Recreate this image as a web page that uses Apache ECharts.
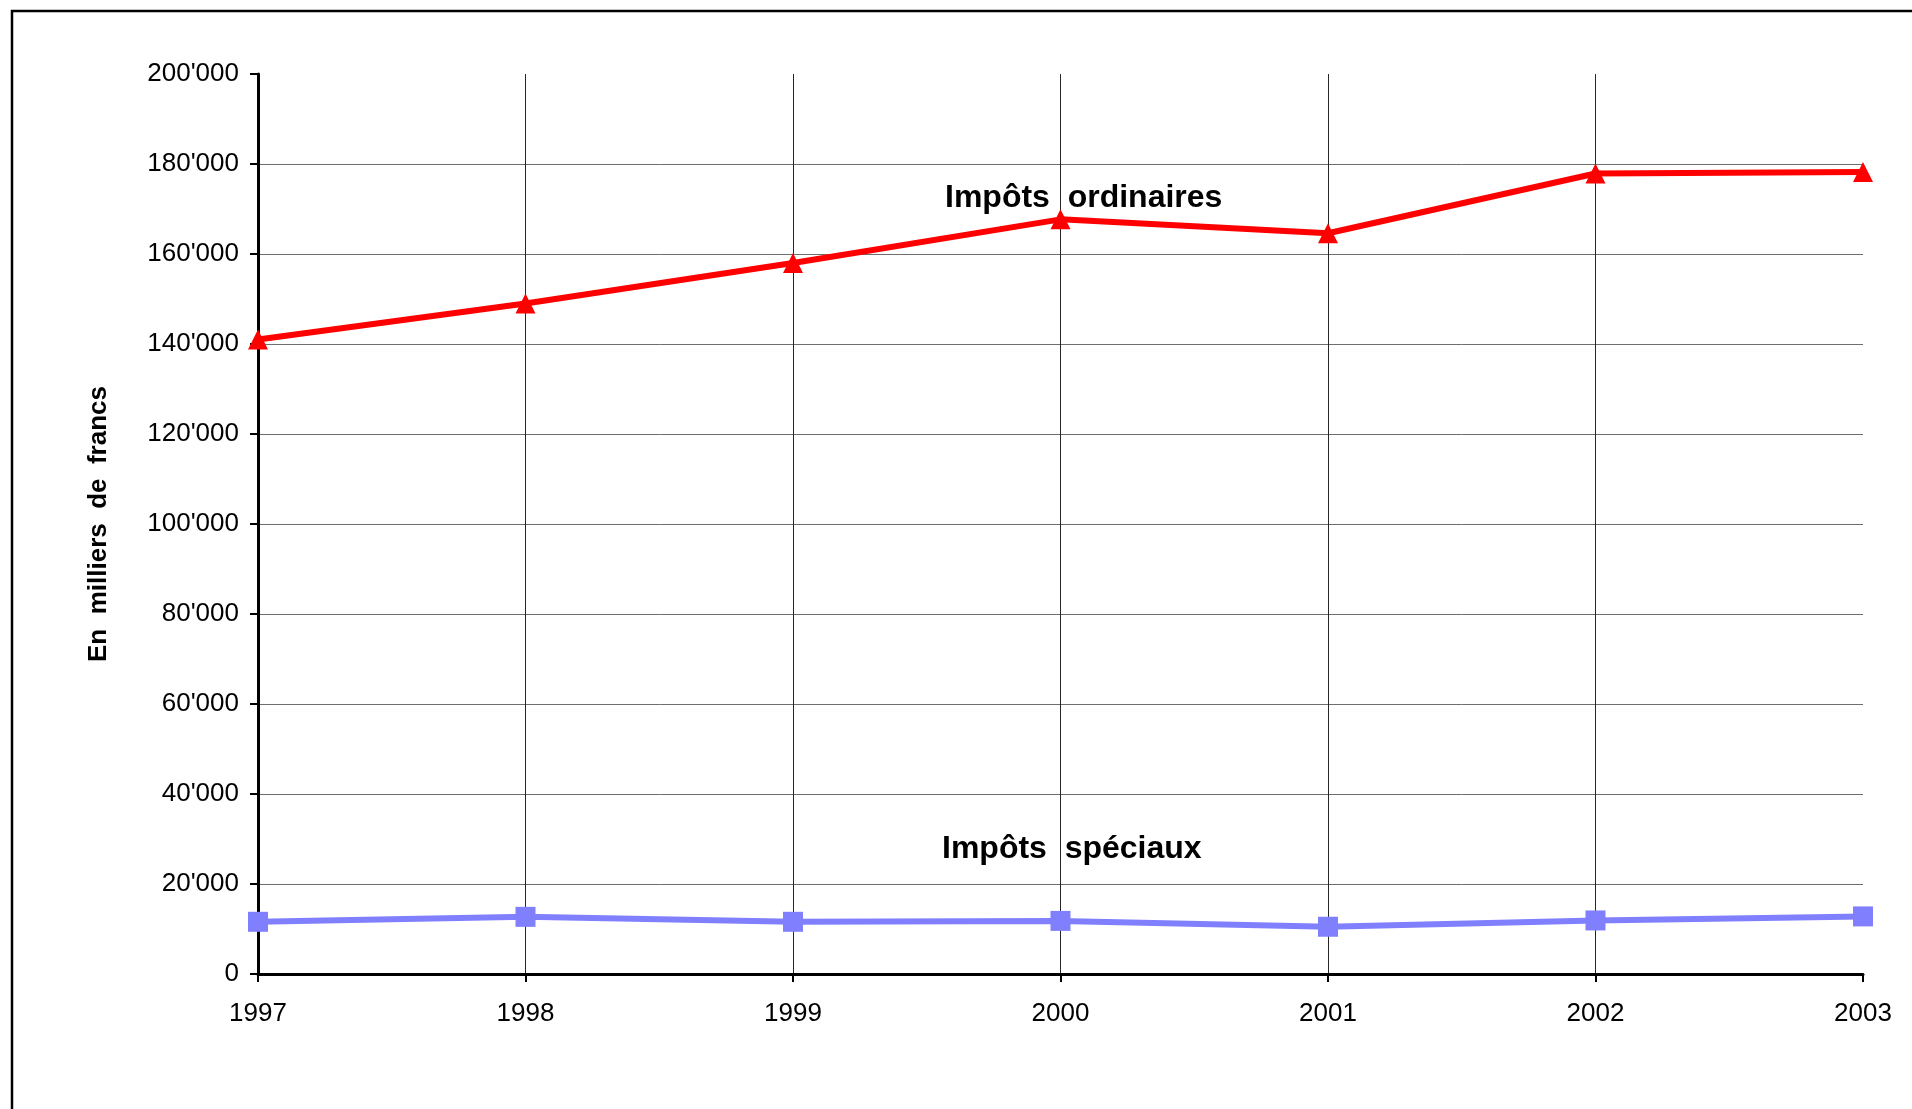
<!DOCTYPE html>
<html>
<head>
<meta charset="utf-8">
<title>Impôts ordinaires et spéciaux 1997–2003</title>
<script src="https://cdn.jsdelivr.net/npm/echarts@6/dist/echarts.min.js"></script>
<style>
  html, body { margin: 0; padding: 0; background: #ffffff; }
  #chart { width: 1912px; height: 1109px; }
</style>
</head>
<body>
<div id="chart"></div>
<script>
// Years on the horizontal axis
const years = ['1997', '1998', '1999', '2000', '2001', '2002', '2003'];

// Tax revenue, in thousands of francs
const impotsOrdinaires = [141000, 149000, 158000, 167700, 164600, 177900, 178200];
const impotsSpeciaux = [11600, 12700, 11600, 11800, 10500, 11900, 12800];

// Value-axis tick labels, from 0 to 200'000 every 20'000
const yTickLabels = ["0", "20'000", "40'000", "60'000", "80'000", "100'000",
  "120'000", "140'000", "160'000", "180'000", "200'000"];

const FONT = '"Liberation Sans", Arial, Helvetica, sans-serif';

const chart = echarts.init(document.getElementById('chart'), null, { renderer: 'canvas' });

chart.setOption({
  animation: false,
  backgroundColor: '#ffffff',
  textStyle: { fontFamily: FONT },
  grid: {
    left: 258,
    right: 49,
    top: 74,
    bottom: 135,
    containLabel: false,
    outerBoundsMode: 'none'
  },
  xAxis: {
    type: 'category',
    data: years,
    boundaryGap: false,
    axisLine: { show: true, lineStyle: { color: '#000000', width: 3 } },
    axisTick: { show: true, length: 8, lineStyle: { color: '#000000', width: 2 } },
    axisLabel: {
      color: '#000000',
      fontFamily: FONT,
      fontSize: 26,
      margin: 27,
      hideOverlap: false
    },
    splitLine: {
      show: true,
      showMinLine: false,
      showMaxLine: false,
      lineStyle: { color: '#262626', width: 1 }
    }
  },
  yAxis: {
    type: 'value',
    min: 0,
    max: 200000,
    interval: 20000,
    axisLine: { show: true, lineStyle: { color: '#000000', width: 3 } },
    axisTick: { show: true, length: 8, lineStyle: { color: '#000000', width: 2 } },
    axisLabel: {
      color: '#000000',
      fontFamily: FONT,
      fontSize: 26,
      margin: 19,
      formatter: function (v) { return yTickLabels[Math.round(v / 20000)]; }
    },
    splitLine: {
      show: true,
      showMinLine: false,
      showMaxLine: false,
      lineStyle: { color: '#6e6e6e', width: 1 }
    }
  },
  series: [
    {
      name: 'Impôts ordinaires',
      type: 'line',
      data: impotsOrdinaires,
      symbol: 'triangle',
      symbolSize: 20,
      showAllSymbol: true,
      lineStyle: { color: '#ff0000', width: 6 },
      itemStyle: { color: '#ff0000', borderWidth: 0 },
      z: 3
    },
    {
      name: 'Impôts spéciaux',
      type: 'line',
      data: impotsSpeciaux,
      symbol: 'rect',
      symbolSize: 20,
      showAllSymbol: true,
      lineStyle: { color: '#8080ff', width: 6 },
      itemStyle: { color: '#8080ff', borderWidth: 0 },
      z: 3
    }
  ],
  graphic: [
    // chart frame
    {
      type: 'rect',
      shape: { x: 12, y: 11, width: 2000, height: 2000 },
      style: { fill: null, stroke: '#000000', lineWidth: 2.5 },
      silent: true,
      z: 10
    },
    // value-axis title
    {
      type: 'text',
      x: 99,
      y: 524,
      rotation: Math.PI / 2,
      style: {
        text: 'En  milliers  de  francs',
        font: 'bold 26px ' + FONT,
        fill: '#000000',
        align: 'center',
        verticalAlign: 'middle'
      },
      z: 10
    },
    // series captions
    {
      type: 'text',
      x: 945,
      y: 198,
      style: {
        text: 'Impôts  ordinaires',
        font: 'bold 32px ' + FONT,
        fill: '#000000',
        align: 'left',
        verticalAlign: 'middle'
      },
      z: 10
    },
    {
      type: 'text',
      x: 942,
      y: 849,
      style: {
        text: 'Impôts  spéciaux',
        font: 'bold 32px ' + FONT,
        fill: '#000000',
        align: 'left',
        verticalAlign: 'middle'
      },
      z: 10
    }
  ]
});
</script>
</body>
</html>
